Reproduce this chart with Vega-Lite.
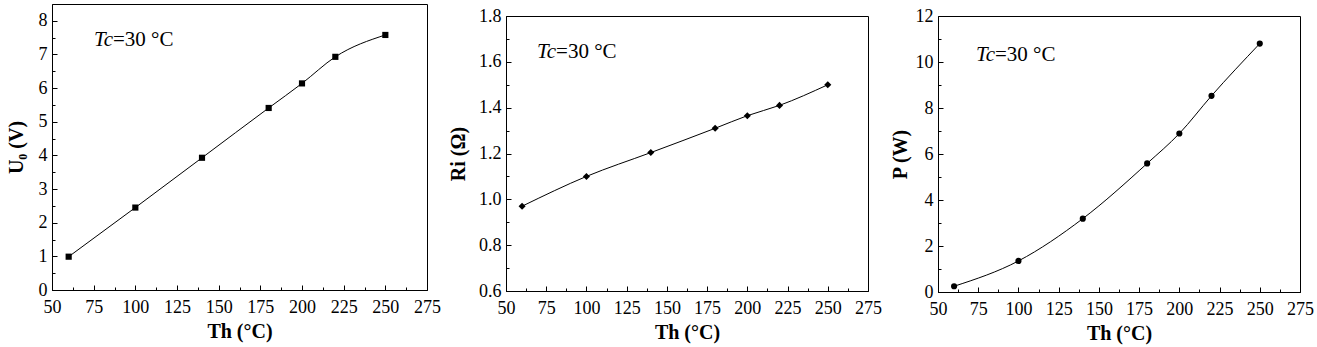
{
  "$schema": "https://vega.github.io/schema/vega-lite/v6.json",
  "padding": {"left": 5, "top": 3, "right": 5, "bottom": 2},
  "background": "white",
  "spacing": 7,
  "config": {
    "font": "Liberation Serif",
    "view": {"stroke": "black", "strokeWidth": 1},
    "axis": {
      "grid": false,
      "domainColor": "black",
      "tickColor": "black",
      "labelColor": "black",
      "titleColor": "black",
      "labelFont": "Liberation Serif",
      "labelFontSize": 18,
      "titleFont": "Liberation Serif",
      "titleFontSize": 20,
      "titleFontWeight": "bold",
      "labelOverlap": false,
      "labelFlush": false,
      "tickSize": -5
    },
    "axisX": {"labelPadding": 13, "titlePadding": 5},
    "axisY": {"labelPadding": 10}
  },
  "datasets": {
    "u0": [
      {"Th": 60, "U0": 0.99},
      {"Th": 100, "U0": 2.45},
      {"Th": 140, "U0": 3.93},
      {"Th": 180, "U0": 5.41},
      {"Th": 200, "U0": 6.14},
      {"Th": 220, "U0": 6.93},
      {"Th": 250, "U0": 7.58}
    ],
    "ri": [
      {"Th": 60, "Ri": 0.97},
      {"Th": 100, "Ri": 1.10},
      {"Th": 140, "Ri": 1.204},
      {"Th": 180, "Ri": 1.31},
      {"Th": 200, "Ri": 1.365},
      {"Th": 220, "Ri": 1.41},
      {"Th": 250, "Ri": 1.50}
    ],
    "p": [
      {"Th": 60, "P": 0.25},
      {"Th": 100, "P": 1.35},
      {"Th": 140, "P": 3.19},
      {"Th": 180, "P": 5.59},
      {"Th": 200, "P": 6.89},
      {"Th": 220, "P": 8.53},
      {"Th": 250, "P": 10.80}
    ],
    "one": [{}]
  },
  "hconcat": [
    {
      "width": 375,
      "height": 286,
      "resolve": {"axis": {"x": "independent", "y": "independent"}},
      "layer": [
        {
          "data": {"name": "u0"},
          "mark": {"type": "line", "interpolate": "monotone", "color": "black", "strokeWidth": 1},
          "encoding": {
            "x": {"field": "Th", "type": "quantitative", "scale": {"domain": [50, 275], "nice": false, "zero": false},
              "axis": {"orient": "bottom", "title": "Th (°C)", "values": [50, 75, 100, 125, 150, 175, 200, 225, 250, 275]}},
            "y": {"field": "U0", "type": "quantitative", "scale": {"domain": [0, 8.5], "nice": false, "zero": false},
              "axis": {"orient": "left", "title": "U₀ (V)", "titlePadding": 12, "values": [0, 1, 2, 3, 4, 5, 6, 7, 8]}}
          }
        },
        {
          "data": {"name": "u0"},
          "mark": {"type": "point", "shape": "square", "filled": true, "color": "black", "opacity": 1, "size": 38},
          "encoding": {
            "x": {"field": "Th", "type": "quantitative",
              "axis": {"orient": "bottom", "title": null, "labels": false, "domain": false, "tickSize": -3, "values": [62.5, 87.5, 112.5, 137.5, 162.5, 187.5, 212.5, 237.5, 262.5]}},
            "y": {"field": "U0", "type": "quantitative",
              "axis": {"orient": "left", "title": null, "labels": false, "domain": false, "tickSize": -3, "values": [0.5, 1.5, 2.5, 3.5, 4.5, 5.5, 6.5, 7.5]}}
          }
        },
        {
          "data": {"name": "one"},
          "mark": {"type": "text", "font": "Liberation Serif", "fontSize": 21, "fontStyle": "italic", "align": "right", "baseline": "middle", "color": "black"},
          "encoding": {"x": {"datum": 86.6, "axis": null}, "y": {"datum": 7.44, "axis": null}, "text": {"value": "Tc"}}
        },
        {
          "data": {"name": "one"},
          "mark": {"type": "text", "font": "Liberation Serif", "fontSize": 21, "align": "left", "baseline": "middle", "color": "black"},
          "encoding": {"x": {"datum": 86.6, "axis": null}, "y": {"datum": 7.44, "axis": null}, "text": {"value": "=30 °C"}}
        }
      ]
    },
    {
      "spacing": 0,
      "vconcat": [
        {
          "width": 362,
          "height": 2,
          "view": {"stroke": null},
          "data": {"name": "one"},
          "mark": {"type": "text", "fontSize": 1, "text": " "}
        },
        {
          "width": 362,
          "height": 275,
          "resolve": {"axis": {"x": "independent", "y": "independent"}},
          "layer": [
            {
              "data": {"name": "ri"},
              "mark": {"type": "line", "interpolate": "monotone", "color": "black", "strokeWidth": 1},
              "encoding": {
                "x": {"field": "Th", "type": "quantitative", "scale": {"domain": [50, 275], "nice": false, "zero": false},
                  "axis": {"orient": "bottom", "title": "Th (°C)", "values": [50, 75, 100, 125, 150, 175, 200, 225, 250, 275]}},
                "y": {"field": "Ri", "type": "quantitative", "scale": {"domain": [0.6, 1.8], "nice": false, "zero": false},
                  "axis": {"orient": "left", "title": "Ri (Ω)", "titlePadding": 10, "format": ".1f", "values": [0.6, 0.8, 1.0, 1.2, 1.4, 1.6, 1.8]}}
              }
            },
            {
              "data": {"name": "ri"},
              "mark": {"type": "point", "shape": "diamond", "filled": true, "color": "black", "opacity": 1, "size": 50},
              "encoding": {
                "x": {"field": "Th", "type": "quantitative",
                  "axis": {"orient": "bottom", "title": null, "labels": false, "domain": false, "tickSize": -3, "values": [62.5, 87.5, 112.5, 137.5, 162.5, 187.5, 212.5, 237.5, 262.5]}},
                "y": {"field": "Ri", "type": "quantitative",
                  "axis": {"orient": "left", "title": null, "labels": false, "domain": false, "tickSize": -3, "values": [0.7, 0.9, 1.1, 1.3, 1.5, 1.7]}}
              }
            },
            {
              "data": {"name": "one"},
              "mark": {"type": "text", "font": "Liberation Serif", "fontSize": 21, "fontStyle": "italic", "align": "right", "baseline": "middle", "color": "black"},
              "encoding": {"x": {"datum": 81.1, "axis": null}, "y": {"datum": 1.645, "axis": null}, "text": {"value": "Tc"}}
            },
            {
              "data": {"name": "one"},
              "mark": {"type": "text", "font": "Liberation Serif", "fontSize": 21, "align": "left", "baseline": "middle", "color": "black"},
              "encoding": {"x": {"datum": 81.1, "axis": null}, "y": {"datum": 1.645, "axis": null}, "text": {"value": "=30 °C"}}
            }
          ]
        }
      ]
    },
    {
      "spacing": 0,
      "vconcat": [
        {
          "width": 362,
          "height": 2,
          "view": {"stroke": null},
          "data": {"name": "one"},
          "mark": {"type": "text", "fontSize": 1, "text": " "}
        },
        {
          "width": 362,
          "height": 276,
          "resolve": {"axis": {"x": "independent", "y": "independent"}},
          "layer": [
            {
              "data": {"name": "p"},
              "mark": {"type": "line", "interpolate": "monotone", "color": "black", "strokeWidth": 1},
              "encoding": {
                "x": {"field": "Th", "type": "quantitative", "scale": {"domain": [50, 275], "nice": false, "zero": false},
                  "axis": {"orient": "bottom", "title": "Th (°C)", "values": [50, 75, 100, 125, 150, 175, 200, 225, 250, 275]}},
                "y": {"field": "P", "type": "quantitative", "scale": {"domain": [0, 12], "nice": false, "zero": false},
                  "axis": {"orient": "left", "title": "P (W)", "titlePadding": 5, "values": [0, 2, 4, 6, 8, 10, 12]}}
              }
            },
            {
              "data": {"name": "p"},
              "mark": {"type": "point", "shape": "circle", "filled": true, "color": "black", "opacity": 1, "size": 38},
              "encoding": {
                "x": {"field": "Th", "type": "quantitative",
                  "axis": {"orient": "bottom", "title": null, "labels": false, "domain": false, "tickSize": -3, "values": [62.5, 87.5, 112.5, 137.5, 162.5, 187.5, 212.5, 237.5, 262.5]}},
                "y": {"field": "P", "type": "quantitative",
                  "axis": {"orient": "left", "title": null, "labels": false, "domain": false, "tickSize": -3, "values": [1, 3, 5, 7, 9, 11]}}
              }
            },
            {
              "data": {"name": "one"},
              "mark": {"type": "text", "font": "Liberation Serif", "fontSize": 21, "fontStyle": "italic", "align": "right", "baseline": "middle", "color": "black"},
              "encoding": {"x": {"datum": 85.4, "axis": null}, "y": {"datum": 10.3, "axis": null}, "text": {"value": "Tc"}}
            },
            {
              "data": {"name": "one"},
              "mark": {"type": "text", "font": "Liberation Serif", "fontSize": 21, "align": "left", "baseline": "middle", "color": "black"},
              "encoding": {"x": {"datum": 85.4, "axis": null}, "y": {"datum": 10.3, "axis": null}, "text": {"value": "=30 °C"}}
            }
          ]
        }
      ]
    }
  ]
}
